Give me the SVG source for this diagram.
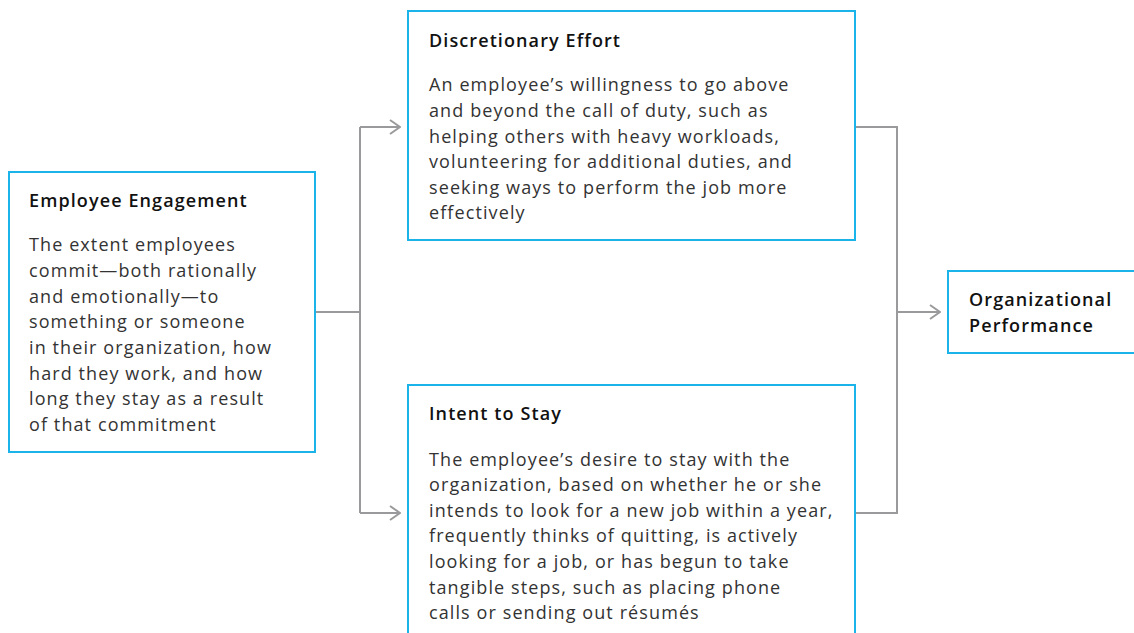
<svg xmlns="http://www.w3.org/2000/svg" width="1134" height="633" viewBox="0 0 1134 633">
<defs>
<style>
.box{fill:#fff;stroke:#1ab4ea;stroke-width:2}
.t{font-family:"Open Sans","Liberation Sans",sans-serif;font-size:18px;font-weight:600;fill:#111;letter-spacing:1.1px}
.b{font-family:"Open Sans","Liberation Sans",sans-serif;font-size:18px;fill:#333;letter-spacing:1.1px}
.c{fill:none;stroke:#9a9a9c;stroke-width:2}
</style>
<marker id="ah" viewBox="0 0 12 16" refX="11" refY="8" markerWidth="12" markerHeight="16" markerUnits="userSpaceOnUse" orient="auto">
<path d="M1,1 L11,8 L1,15" fill="none" stroke="#9a9a9c" stroke-width="2"/>
</marker>
</defs>
<rect width="1134" height="633" fill="#fff"/>
<g id="connectors">
<path class="c" d="M315,312 H360"/>
<path class="c" d="M360,127 V513"/>
<path class="c" d="M360,127 H400" marker-end="url(#ah)"/>
<path class="c" d="M360,513 H400" marker-end="url(#ah)"/>
<path class="c" d="M855,127 H897 V513 H855"/>
<path class="c" d="M897,312 H940" marker-end="url(#ah)"/>
</g>
<g id="employee-engagement">
<rect class="box" x="9" y="172" width="306" height="280"/>
<text class="t" x="29" y="207">Employee Engagement</text>
<text class="b" x="29" y="251">The extent employees</text>
<text class="b" x="29" y="277">commit—both rationally</text>
<text class="b" x="29" y="303">and emotionally—to</text>
<text class="b" x="29" y="328">something or someone</text>
<text class="b" x="29" y="354">in their organization, how</text>
<text class="b" x="29" y="380">hard they work, and how</text>
<text class="b" x="29" y="405">long they stay as a result</text>
<text class="b" x="29" y="431">of that commitment</text>
</g>
<g id="discretionary-effort">
<rect class="box" x="408" y="11" width="447" height="229"/>
<text class="t" x="429" y="47">Discretionary Effort</text>
<text class="b" x="429" y="91">An employee’s willingness to go above</text>
<text class="b" x="429" y="117">and beyond the call of duty, such as</text>
<text class="b" x="429" y="143">helping others with heavy workloads,</text>
<text class="b" x="429" y="168">volunteering for additional duties, and</text>
<text class="b" x="429" y="194">seeking ways to perform the job more</text>
<text class="b" x="429" y="219">effectively</text>
</g>
<g id="intent-to-stay">
<rect class="box" x="408" y="385" width="447" height="260"/>
<text class="t" x="429" y="420">Intent to Stay</text>
<text class="b" x="429" y="466">The employee’s desire to stay with the</text>
<text class="b" x="429" y="491">organization, based on whether he or she</text>
<text class="b" x="429" y="517">intends to look for a new job within a year,</text>
<text class="b" x="429" y="542">frequently thinks of quitting, is actively</text>
<text class="b" x="429" y="568">looking for a job, or has begun to take</text>
<text class="b" x="429" y="594">tangible steps, such as placing phone</text>
<text class="b" x="429" y="619">calls or sending out résumés</text>
</g>
<g id="organizational-performance">
<rect class="box" x="948" y="271" width="200" height="82"/>
<text class="t" x="969" y="306">Organizational</text>
<text class="t" x="969" y="332">Performance</text>
</g>
</svg>
